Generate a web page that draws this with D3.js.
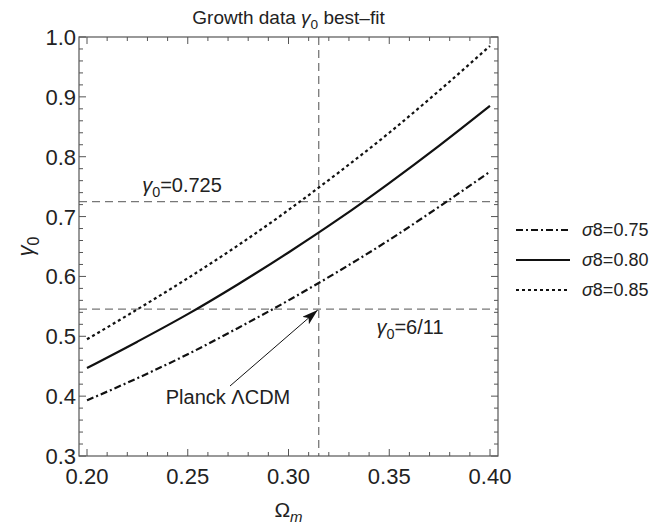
<!DOCTYPE html>
<html>
<head>
<meta charset="utf-8">
<script src="https://cdn.jsdelivr.net/npm/d3@7"></script>
<style>
  body { margin: 0; background: #fff; }
  svg text { font-family: "Liberation Sans", Arial, sans-serif; fill: #222; }
</style>
</head>
<body>
<script>
"use strict";

// values
var omegaM = [0.200, 0.225, 0.250, 0.275, 0.300, 0.325, 0.350, 0.375, 0.400];
var gammaS075 = [0.393, 0.430, 0.470, 0.514, 0.560, 0.609, 0.661, 0.717, 0.775];
var gammaS080 = [0.447, 0.491, 0.537, 0.587, 0.640, 0.696, 0.756, 0.819, 0.885];
var gammaS085 = [0.495, 0.545, 0.597, 0.652, 0.711, 0.774, 0.840, 0.911, 0.985];
var seriesNames = ["0.75", "0.80", "0.85"];
var xTicks = [0.20, 0.25, 0.30, 0.35, 0.40];
var yTicks = [0.3, 0.4, 0.5, 0.6, 0.7, 0.8, 0.9, 1.0];
var planckOmega = 0.315;
var refGammas = [0.725, 6 / 11];

var width = 669, height = 529;
var frame = { left: 79, right: 498, top: 37, bottom: 456 };

var svg = d3.select("body").append("svg")
    .attr("width", width)
    .attr("height", height);

var x = d3.scaleLinear().domain([0.2, 0.4]).range([87, 490]);
var y = d3.scaleLinear().domain([0.3, 1.0]).range([frame.bottom, frame.top]);

var frameColor = "#555";

// reference lines
svg.append("line")
    .attr("x1", x(planckOmega)).attr("x2", x(planckOmega))
    .attr("y1", frame.top).attr("y2", frame.bottom)
    .attr("stroke", "#777").attr("stroke-width", 1.3)
    .attr("stroke-dasharray", "8,5");

svg.selectAll(".ref")
    .data(refGammas)
    .enter()
      .append("line")
      .attr("class", "ref")
      .attr("x1", frame.left).attr("x2", frame.right)
      .attr("y1", function (d) { return y(d); })
      .attr("y2", function (d) { return y(d); })
      .attr("stroke", "#777").attr("stroke-width", 1.3)
      .attr("stroke-dasharray", "8,5");

// curves
var series = [
    { name: seriesNames[0], values: gammaS075, dash: "7,3,2,3" },
    { name: seriesNames[1], values: gammaS080, dash: null },
    { name: seriesNames[2], values: gammaS085, dash: "3,3" }
];

var line = d3.line()
    .x(function (d) { return x(d[0]); })
    .y(function (d) { return y(d[1]); })
    .curve(d3.curveMonotoneX);

svg.selectAll(".curve")
    .data(series)
    .enter()
      .append("path")
      .attr("class", "curve")
      .attr("fill", "none")
      .attr("stroke", "#111")
      .attr("stroke-width", 2.2)
      .attr("stroke-dasharray", function (d) { return d.dash; })
      .attr("d", function (d) { return line(d3.zip(omegaM, d.values)); });

// frame with inner ticks on all sides
svg.append("rect")
    .attr("x", frame.left).attr("y", frame.top)
    .attr("width", frame.right - frame.left)
    .attr("height", frame.bottom - frame.top)
    .attr("fill", "none").attr("stroke", frameColor).attr("stroke-width", 1.2);

var xMinor = d3.range(20, 41).map(function (i) { return i / 100; });
var yMinor = d3.range(15, 51).map(function (i) { return i / 50; });

function isMajor(v, step) {
    return Math.abs(v / step - Math.round(v / step)) < 1e-6;
}

var tickG = svg.append("g").attr("stroke", frameColor).attr("stroke-width", 1);

xMinor.forEach(function (v) {
    var len = isMajor(v, 0.05) ? 7 : 4;
    tickG.append("line").attr("x1", x(v)).attr("x2", x(v))
        .attr("y1", frame.bottom).attr("y2", frame.bottom - len);
    tickG.append("line").attr("x1", x(v)).attr("x2", x(v))
        .attr("y1", frame.top).attr("y2", frame.top + len);
});

yMinor.forEach(function (v) {
    var len = isMajor(v, 0.1) ? 7 : 4;
    tickG.append("line").attr("y1", y(v)).attr("y2", y(v))
        .attr("x1", frame.left).attr("x2", frame.left + len);
    tickG.append("line").attr("y1", y(v)).attr("y2", y(v))
        .attr("x1", frame.right).attr("x2", frame.right - len);
});

// tick labels
svg.selectAll(".xlab")
    .data(xTicks)
    .enter()
      .append("text")
      .attr("class", "xlab")
      .attr("x", function (d) { return x(d); })
      .attr("y", frame.bottom + 28)
      .attr("text-anchor", "middle")
      .style("font-size", "22px")
      .text(function (d) { return d3.format(".2f")(d); });

svg.selectAll(".ylab")
    .data(yTicks)
    .enter()
      .append("text")
      .attr("class", "ylab")
      .attr("x", frame.left - 3)
      .attr("y", function (d) { return y(d) + 8; })
      .attr("text-anchor", "end")
      .style("font-size", "22px")
      .text(function (d) { return d3.format(".1f")(d); });

// gamma_0 text helper
function gammaText(sel, size, rest) {
    sel.append("tspan").style("font-style", "italic").text("\u03b3");
    sel.append("tspan").attr("dy", size * 0.25).style("font-size", (size * 0.72) + "px").text("0");
    sel.append("tspan").attr("dy", -size * 0.25).text(rest);
}

// title
var title = svg.append("text")
    .attr("x", (frame.left + frame.right) / 2)
    .attr("y", 24)
    .attr("text-anchor", "middle")
    .style("font-size", "19px");
title.append("tspan").text("Growth data ");
gammaText(title, 19, " best\u2013fit");

// axis labels
var ylab = svg.append("text")
    .attr("transform", "translate(33," + ((frame.top + frame.bottom) / 2) + ") rotate(-90)")
    .attr("text-anchor", "middle")
    .style("font-size", "22px");
gammaText(ylab, 22, "");

var xlab = svg.append("text")
    .attr("x", (frame.left + frame.right) / 2)
    .attr("y", 517)
    .attr("text-anchor", "middle")
    .style("font-size", "21px");
xlab.append("tspan").text("\u03a9");
xlab.append("tspan").attr("dy", 5).style("font-size", "15px").style("font-style", "italic").text("m");

// annotations
var a1 = svg.append("text")
    .attr("x", 182).attr("y", y(refGammas[0]) - 10)
    .attr("text-anchor", "middle")
    .style("font-size", "20px");
gammaText(a1, 20, "=0.725");

var a2 = svg.append("text")
    .attr("x", 410).attr("y", y(refGammas[1]) + 25)
    .attr("text-anchor", "middle")
    .style("font-size", "20px");
gammaText(a2, 20, "=6/11");

svg.append("text")
    .attr("x", 228).attr("y", 404)
    .attr("text-anchor", "middle")
    .style("font-size", "20px")
    .text("Planck \u039bCDM");

svg.append("defs").append("marker")
    .attr("id", "arrow")
    .attr("viewBox", "0 0 16 10")
    .attr("refX", 16).attr("refY", 5)
    .attr("markerWidth", 16).attr("markerHeight", 10)
    .attr("markerUnits", "userSpaceOnUse")
    .attr("orient", "auto")
    .append("path")
      .attr("d", "M0,0 L16,5 L0,10 L4,5 Z")
      .attr("fill", "#111");

svg.append("line")
    .attr("x1", 230).attr("y1", 386)
    .attr("x2", x(planckOmega) - 1).attr("y2", y(refGammas[1]) + 1)
    .attr("stroke", "#111").attr("stroke-width", 1)
    .attr("marker-end", "url(#arrow)");

// legend
var legend = svg.selectAll(".legend")
    .data(series)
    .enter()
      .append("g")
      .attr("class", "legend")
      .attr("transform", function (d, i) { return "translate(516," + (230 + i * 30) + ")"; });

legend.append("line")
    .attr("x1", 0).attr("x2", 54)
    .attr("stroke", "#111").attr("stroke-width", 2.2)
    .attr("stroke-dasharray", function (d) { return d.dash; });

var lt = legend.append("text")
    .attr("x", 66).attr("y", 6)
    .style("font-size", "18px");
lt.append("tspan").style("font-style", "italic").text("\u03c3");
lt.append("tspan").text(function (d) { return "8=" + d.name; });
</script>
</body>
</html>
